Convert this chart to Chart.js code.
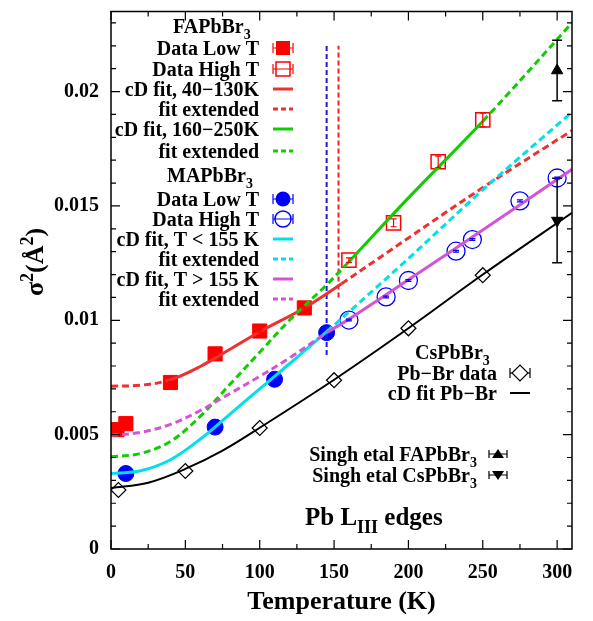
<!DOCTYPE html>
<html>
<head>
<meta charset="utf-8">
<script src="https://cdn.jsdelivr.net/npm/chart.js@4.4.1/dist/chart.umd.min.js"></script>
<style>
  body { margin: 0; background: #fff; }
</style>
</head>
<body>
<canvas id="sigmaChart" width="593" height="621"></canvas>
<script>
// ---- data (T in K, sigma^2 in A^2) ----
// FAPbBr3
const faLowT = [4, 10, 40, 70, 100, 130];
const faLowS = [0.00522, 0.00548, 0.00728, 0.00853, 0.00953, 0.01054];
const faLowErr = [0.00005, 0.00005, 0.00005, 0.00005, 0.00005, 0.00005];
const faHighT = [160, 190, 220, 250];
const faHighS = [0.01263, 0.01426, 0.01693, 0.01876];
const faHighErr = [0.0001, 0.00017, 0.00025, 0.0003];
// MAPbBr3
const maLowT = [10, 70, 110, 145];
const maLowS = [0.0033, 0.00533, 0.00742, 0.00946];
const maHighT = [160, 185, 200, 232, 243, 275, 300];
const maHighS = [0.01001, 0.01102, 0.01174, 0.01302, 0.01353, 0.01522, 0.01622];
const maHighErr = [0.00004, 0.00004, 0.00004, 0.00004, 0.00004, 0.00004, 0.00004];
// CsPbBr3 Pb-Br
const csT = [5, 50, 100, 150, 200, 250];
const csS = [0.00258, 0.00341, 0.00529, 0.00738, 0.00965, 0.01197];
// Singh etal
const singhT = [300];
const singhFaS = [0.02092];
const singhFaErr = [0.00132];
const singhCsS = [0.01436];
const singhCsErr = [0.00185];

// correlated Debye fit curves
const fitFaLowT = [0, 20, 40, 60, 80, 100, 130, 155, 200, 250, 310];
const fitFaLowS = [0.00712, 0.00716, 0.0074, 0.00798, 0.00873, 0.0095, 0.01054, 0.0116, 0.0136, 0.0158, 0.0183];
const fitFaHighT = [0, 20, 40, 60, 80, 100, 120, 145, 160, 200, 250, 310];
const fitFaHighS = [0.00403, 0.00418, 0.0047, 0.0058, 0.0072, 0.0086, 0.01, 0.01155, 0.01256, 0.01535, 0.0187, 0.023];
const fitMaLowT = [0, 20, 40, 60, 80, 100, 120, 145, 200, 250, 310];
const fitMaLowS = [0.0033, 0.00342, 0.0039, 0.0048, 0.0059, 0.007, 0.0081, 0.0095, 0.0127, 0.0157, 0.0191];
const fitMaHighT = [0, 20, 40, 60, 80, 100, 120, 145, 160, 200, 250, 310];
const fitMaHighS = [0.00497, 0.0051, 0.00545, 0.00605, 0.0068, 0.00755, 0.00835, 0.00945, 0.01005, 0.01177, 0.01395, 0.0166];
const fitCsT = [0, 25, 50, 75, 100, 150, 200, 250, 310];
const fitCsS = [0.00267, 0.0029, 0.0035, 0.0043, 0.0053, 0.0074, 0.00965, 0.012, 0.0147];

// transition markers
const markBlueT = [145, 145];
const markBlueS = [0.00848, 0.022];
const markRedT = [153, 153];
const markRedS = [0.011, 0.022];

// axis ticks
const xTickStep = 50;
const yTickStep = 0.005;

const SERIF = '"Liberation Serif", "Times New Roman", serif';
const RED = '#ff0000', FITRED = '#ee3030', GREEN = '#11cc00', CYAN = '#00e0e8',
      MAGENTA = '#d455d4', BLUE = '#0000ff';

function pts(xs, ys) { return xs.map((x, i) => ({ x: x, y: ys[i] })); }
function dashOutside(lo, hi) {
  return ctx => (ctx.p0.parsed.x >= lo && ctx.p1.parsed.x <= hi) ? [] : [7, 4];
}
function fitLine(xs, ys, color, lo, hi, width) {
  return {
    data: pts(xs, ys), showLine: true, borderColor: color, borderWidth: width || 3,
    pointRadius: 0, tension: 0.35,
    segment: { borderDash: dashOutside(lo, hi) }
  };
}
function markLine(xs, ys, color) {
  return { data: pts(xs, ys), showLine: true, borderColor: color, borderWidth: 2,
           borderDash: [5, 3], pointRadius: 0 };
}

function font(sz) { return 'bold ' + sz + 'px ' + SERIF; }

// text with optional sub/superscripts: parts = [[text, kind]]
function richText(ctx, parts, x, y, size, align) {
  const sizes = parts.map(p => p[1] ? Math.round(size * 0.7) : size);
  let w = 0;
  parts.forEach((p, i) => { ctx.font = font(sizes[i]); w += ctx.measureText(p[0]).width; });
  let cx = align === 'right' ? x - w : (align === 'center' ? x - w / 2 : x);
  parts.forEach((p, i) => {
    ctx.font = font(sizes[i]);
    let dy = 0;
    if (p[1] === 'sub') dy = size * 0.3;
    if (p[1] === 'sup') dy = -size * 0.4;
    ctx.fillText(p[0], cx, y + dy);
    cx += ctx.measureText(p[0]).width;
  });
}

function hErr(ctx, x, y, half, cap) {
  ctx.beginPath();
  ctx.moveTo(x - half, y); ctx.lineTo(x + half, y);
  ctx.moveTo(x - half, y - cap); ctx.lineTo(x - half, y + cap);
  ctx.moveTo(x + half, y - cap); ctx.lineTo(x + half, y + cap);
  ctx.stroke();
}

const overlay = {
  id: 'overlay',
  afterDatasetsDraw(chart) {
    const ctx = chart.ctx, xs = chart.scales.x, ys = chart.scales.y;
    ctx.save();
    chart.data.datasets.forEach(ds => {
      if (!ds.errY) return;
      ctx.strokeStyle = ds.errColor || ds.borderColor;
      ctx.lineWidth = ds.errWidth || 1.2;
      ds.data.forEach((p, j) => {
        const x = xs.getPixelForValue(p.x);
        const y1 = ys.getPixelForValue(p.y - ds.errY[j]);
        const y2 = ys.getPixelForValue(p.y + ds.errY[j]);
        const c = ds.errCap || 3;
        ctx.beginPath();
        ctx.moveTo(x, y1); ctx.lineTo(x, y2);
        ctx.moveTo(x - c, y1); ctx.lineTo(x + c, y1);
        ctx.moveTo(x - c, y2); ctx.lineTo(x + c, y2);
        ctx.stroke();
      });
    });
    ctx.restore();
  },
  afterDraw(chart) {
    const ctx = chart.ctx, a = chart.chartArea, xs = chart.scales.x, ys = chart.scales.y;
    ctx.save();
    // frame + inward ticks on all sides
    ctx.strokeStyle = '#000';
    ctx.lineWidth = 1.5;
    ctx.strokeRect(a.left, a.top, a.right - a.left, a.bottom - a.top);
    ctx.lineWidth = 1.2;
    ctx.beginPath();
    for (let v = 0; v <= xs.max; v += xTickStep / 2) {
      const x = xs.getPixelForValue(v), len = v % xTickStep === 0 ? 9 : 5;
      ctx.moveTo(x, a.bottom); ctx.lineTo(x, a.bottom - len);
      ctx.moveTo(x, a.top); ctx.lineTo(x, a.top + len);
    }
    for (let i = 0; i * 0.001 <= ys.max; i++) {
      const y = ys.getPixelForValue(i * 0.001), len = i % 5 === 0 ? 9 : 5;
      ctx.moveTo(a.left, y); ctx.lineTo(a.left + len, y);
      ctx.moveTo(a.right, y); ctx.lineTo(a.right - len, y);
    }
    ctx.stroke();

    ctx.fillStyle = '#000';
    ctx.textBaseline = 'alphabetic';
    // axis titles
    ctx.font = font(26);
    ctx.textAlign = 'center';
    ctx.fillText('Temperature (K)', (a.left + a.right) / 2, 609);
    ctx.textAlign = 'left';
    ctx.save();
    ctx.translate(43, 262);
    ctx.rotate(-Math.PI / 2);
    richText(ctx, [['σ'], ['2', 'sup'], ['(Å'], ['2', 'sup'], [')']], 0, 0, 26, 'center');
    ctx.restore();

    // left key
    const tx = 259, sx = 283;
    richText(ctx, [['FAPbBr'], ['3', 'sub']], 173, 33, 20, 'left');
    const faRows = [
      ['Data Low T', 55], ['Data High T', 76], ['cD fit, 40−130K', 96],
      ['fit extended', 116], ['cD fit, 160−250K', 136], ['fit extended', 158]
    ];
    faRows.forEach(r => richText(ctx, [[r[0]]], tx, r[1], 20, 'right'));
    richText(ctx, [['MAPbBr'], ['3', 'sub']], 167, 182, 20, 'left');
    const maRows = [
      ['Data Low T', 206], ['Data High T', 226], ['cD fit, T < 155 K', 246],
      ['fit extended', 266], ['cD fit, T > 155 K', 286], ['fit extended', 306]
    ];
    maRows.forEach(r => richText(ctx, [[r[0]]], tx, r[1], 20, 'right'));

    // key samples
    ctx.lineWidth = 1.2;
    ctx.strokeStyle = RED;
    hErr(ctx, sx, 48, 10, 5);
    ctx.fillStyle = RED;
    ctx.fillRect(sx - 7, 41, 14, 14);
    hErr(ctx, sx, 69, 10, 5);
    ctx.lineWidth = 1.5;
    ctx.strokeRect(sx - 7, 62, 14, 14);
    const sample = (x, y, color, dash, w) => {
      ctx.lineWidth = w || 3; ctx.strokeStyle = color; ctx.setLineDash(dash);
      ctx.beginPath(); ctx.moveTo(x - 10, y); ctx.lineTo(x + 10, y); ctx.stroke();
      ctx.setLineDash([]);
    };
    sample(sx, 89, FITRED, []); sample(sx, 109, FITRED, [5, 3]);
    sample(sx, 129, GREEN, []); sample(sx, 151, GREEN, [5, 3]);
    ctx.lineWidth = 1.2; ctx.strokeStyle = BLUE;
    hErr(ctx, sx, 199, 10, 5);
    ctx.fillStyle = BLUE;
    ctx.beginPath(); ctx.arc(sx, 199, 7.5, 0, Math.PI * 2); ctx.fill();
    hErr(ctx, sx, 219, 10, 5);
    ctx.lineWidth = 1.5;
    ctx.beginPath(); ctx.arc(sx, 219, 8, 0, Math.PI * 2); ctx.stroke();
    sample(sx, 239, CYAN, []); sample(sx, 259, CYAN, [5, 3]);
    sample(sx, 279, MAGENTA, []); sample(sx, 299, MAGENTA, [5, 3]);

    // right key
    ctx.fillStyle = '#000';
    richText(ctx, [['CsPbBr'], ['3', 'sub']], 415, 359, 20, 'left');
    richText(ctx, [['Pb−Br data']], 497, 380, 20, 'right');
    richText(ctx, [['cD fit Pb−Br']], 497, 400, 20, 'right');
    ctx.strokeStyle = '#000'; ctx.lineWidth = 1.2;
    hErr(ctx, 520, 373, 10, 5);
    ctx.fillStyle = '#fff';
    ctx.beginPath();
    ctx.moveTo(512, 373); ctx.lineTo(520, 365); ctx.lineTo(528, 373); ctx.lineTo(520, 381);
    ctx.closePath(); ctx.fill(); ctx.stroke();
    sample(520, 393, '#000', [], 2);

    ctx.fillStyle = '#000';
    richText(ctx, [['Singh etal FAPbBr'], ['3', 'sub']], 477, 461, 20, 'right');
    richText(ctx, [['Singh etal CsPbBr'], ['3', 'sub']], 477, 482, 20, 'right');
    ctx.strokeStyle = '#000'; ctx.lineWidth = 1.2;
    hErr(ctx, 498, 454, 9, 4);
    hErr(ctx, 498, 475, 9, 4);
    ctx.beginPath();
    ctx.moveTo(492, 458); ctx.lineTo(504, 458); ctx.lineTo(498, 449); ctx.closePath(); ctx.fill();
    ctx.beginPath();
    ctx.moveTo(492, 471); ctx.lineTo(504, 471); ctx.lineTo(498, 480); ctx.closePath(); ctx.fill();

    richText(ctx, [['Pb L'], ['III', 'sub'], [' edges']], 305, 525, 25, 'left');
    ctx.restore();
  }
};

function noPad(scale) {
  scale.paddingTop = 0; scale.paddingBottom = 0;
  scale.paddingLeft = 0; scale.paddingRight = 0;
}

new Chart(document.getElementById('sigmaChart'), {
  type: 'scatter',
  data: {
    datasets: [
      fitLine(fitCsT, fitCsS, '#000', 0, 310, 2),
      fitLine(fitMaHighT, fitMaHighS, MAGENTA, 145, 310),
      fitLine(fitMaLowT, fitMaLowS, CYAN, 0, 145),
      fitLine(fitFaHighT, fitFaHighS, GREEN, 160, 250),
      fitLine(fitFaLowT, fitFaLowS, FITRED, 40, 155),
      markLine(markBlueT, markBlueS, '#1a1aee'),
      markLine(markRedT, markRedS, '#ee2222'),
      { data: pts(singhT, singhFaS), pointStyle: 'triangle', pointRadius: 6.5,
        backgroundColor: '#000', borderColor: '#000', errY: singhFaErr, errCap: 5, errWidth: 1.5 },
      { data: pts(singhT, singhCsS), pointStyle: 'triangle', rotation: 180, pointRadius: 6.5,
        backgroundColor: '#000', borderColor: '#000', errY: singhCsErr, errCap: 5, errWidth: 1.5 },
      { data: pts(csT, csS), pointStyle: 'rectRot', pointRadius: 7.5,
        backgroundColor: 'rgba(0,0,0,0)', borderColor: '#000', borderWidth: 1.2 },
      { data: pts(maHighT, maHighS), pointStyle: 'circle', pointRadius: 9,
        backgroundColor: 'rgba(0,0,0,0)', borderColor: BLUE, borderWidth: 1.3, errY: maHighErr },
      { data: pts(maLowT, maLowS), pointStyle: 'circle', pointRadius: 8,
        backgroundColor: BLUE, borderColor: BLUE },
      { data: pts(faHighT, faHighS), pointStyle: 'rect', pointRadius: 10,
        backgroundColor: 'rgba(0,0,0,0)', borderColor: RED, borderWidth: 1.5, errY: faHighErr },
      { data: pts(faLowT, faLowS), pointStyle: 'rect', pointRadius: 10,
        backgroundColor: RED, borderColor: RED, errY: faLowErr }
    ]
  },
  options: {
    responsive: false,
    animation: false,
    layout: { padding: { top: 5, right: 21, left: 0, bottom: 0 } },
    plugins: { legend: { display: false }, tooltip: { enabled: false } },
    scales: {
      x: {
        type: 'linear', min: 0, max: 310,
        grid: { display: false, drawTicks: false },
        border: { display: false },
        ticks: { stepSize: xTickStep, includeBounds: false, padding: 12, color: '#000',
                 font: { family: SERIF, size: 20, weight: 'bold' } },
        afterFit(scale) { scale.height = 72; noPad(scale); }
      },
      y: {
        type: 'linear', min: 0, max: 0.0235,
        grid: { display: false, drawTicks: false },
        border: { display: false },
        ticks: { stepSize: yTickStep, includeBounds: false, padding: 12, color: '#000',
                 font: { family: SERIF, size: 20, weight: 'bold' },
                 callback: v => String(+v.toFixed(3)) },
        afterFit(scale) { scale.width = 111; noPad(scale); }
      }
    }
  },
  plugins: [overlay]
});
</script>
</body>
</html>
